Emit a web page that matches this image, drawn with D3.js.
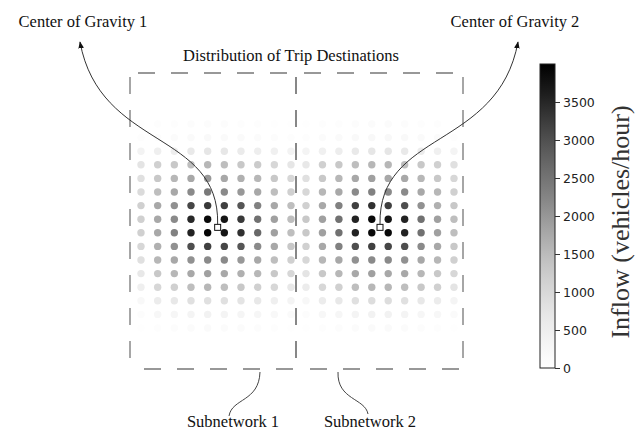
<!DOCTYPE html>
<html>
<head>
<meta charset="utf-8">
<script src="https://cdn.jsdelivr.net/npm/d3@7"></script>
<style>
body { margin: 0; background: #fff; }
svg { display: block; }
.serif { font-family: "Liberation Serif", "Times New Roman", serif; fill: #111; }
.tick text { font-family: "DejaVu Sans", sans-serif; font-size: 12.5px; fill: #222; }
</style>
</head>
<body>
<div id="chart"></div>
<script>
// inflow per zone (vehicles/hour), rows top -> bottom, 10 columns per subnetwork
var subnetwork1 = [
    [  40,   60,   80,  100,  100,  100,   80,   60,   40,   30],
    [  60,  100,  120,  160,  200,  180,  160,  120,  100,   60],
    [ 380,  480,  520,  650,  700,  680,  600,  520,  460,  380],
    [ 760, 1160, 1300, 1450, 1560, 1450, 1300, 1250, 1020,  700],
    [ 850, 1300, 1560, 1770, 1980, 1770, 1660, 1560, 1300, 1020],
    [ 950, 1450, 1770, 2180, 2420, 2180, 1980, 1770, 1450, 1160],
    [1160, 1770, 2080, 3120, 3280, 3200, 2920, 2300, 1770, 1450],
    [1160, 1770, 2180, 3480, 3880, 3720, 3280, 2540, 1870, 1450],
    [1160, 1770, 2300, 3550, 3950, 3720, 3380, 2660, 1870, 1450],
    [1020, 1660, 2080, 3020, 3200, 3120, 2920, 2180, 1770, 1300],
    [ 850, 1560, 1770, 2080, 2180, 2180, 1980, 1770, 1450, 1160],
    [ 670, 1300, 1560, 1770, 1870, 1770, 1660, 1560, 1300, 1020],
    [ 500, 1020, 1160, 1450, 1560, 1450, 1300, 1160, 1020,  670],
    [ 220,  580,  670,  850,  850,  850,  760,  670,  500,  360],
    [ 100,  250,  300,  360,  400,  360,  330,  300,  220,  150],
    [  40,   80,  100,  140,  160,  140,  120,  100,   80,   40]
];
var subnetwork2 = [
    [  40,   60,   80,  100,  120,  120,  100,   80,   60,   40],
    [  80,  120,  160,  200,  220,  220,  200,  160,  120,   80],
    [ 360,  460,  540,  640,  700,  700,  640,  560,  460,  360],
    [ 670, 1160, 1300, 1450, 1560, 1560, 1450, 1300, 1160,  850],
    [ 850, 1300, 1560, 1770, 1870, 1770, 1770, 1560, 1300, 1020],
    [1020, 1560, 1770, 2180, 2300, 2180, 2180, 1770, 1560, 1160],
    [1160, 1770, 2300, 3200, 3380, 3200, 3020, 2080, 1660, 1300],
    [1300, 1870, 2540, 3550, 3880, 3720, 3550, 2540, 1870, 1450],
    [1300, 1870, 2540, 3550, 3880, 3880, 3550, 2540, 1870, 1450],
    [1160, 1770, 2300, 3020, 3200, 3120, 3020, 2180, 1770, 1300],
    [1020, 1560, 1770, 2080, 2180, 2180, 2080, 1770, 1560, 1160],
    [ 760, 1300, 1560, 1770, 1870, 1770, 1770, 1560, 1300, 1020],
    [ 580, 1020, 1160, 1450, 1560, 1560, 1450, 1300, 1160,  760],
    [ 250,  580,  670,  850,  900,  900,  850,  670,  580,  360],
    [ 100,  250,  300,  360,  400,  400,  360,  300,  250,  150],
    [  40,   80,  100,  140,  160,  160,  140,  100,   80,   40]
];
var subnetworkNames = ["Subnetwork 1", "Subnetwork 2"];
var gravityNames = ["Center of Gravity 1", "Center of Gravity 2"];
// centre of gravity in grid units (column, row)
var gravityCol = [4.6, 4.5];
var gravityRow = [7.6, 7.6];
var colorTicks = [0, 500, 1000, 1500, 2000, 2500, 3000, 3500];
var colorMax = 4000;

var width = 636, height = 437;

var svg = d3.select("#chart").append("svg")
    .attr("width", width)
    .attr("height", height);

var color = d3.scaleSequential(d3.interpolateGreys).domain([0, colorMax]);

// one x scale per subnetwork, shared row scale
var panels = [
    {values: subnetwork1, x: d3.scaleLinear().domain([0, 9]).range([141, 291]), box: [130, 296]},
    {values: subnetwork2, x: d3.scaleLinear().domain([0, 9]).range([306, 454]), box: [296, 463]}
];
var y = d3.scaleLinear().domain([0, 15]).range([124, 328]);
var boxTop = 73, boxBottom = 369;

// dashed frames
panels.forEach(function(p) {
    var g = svg.append("g")
        .attr("fill", "none")
        .attr("stroke", "#777")
        .attr("stroke-width", 1.3)
        .attr("stroke-dasharray", "17,16");
    var segs = [
        [p.box[0] + 8, boxTop, p.box[1], boxTop],
        [p.box[0] + 14, boxBottom, p.box[1], boxBottom],
        [p.box[0], boxTop + 4, p.box[0], boxBottom],
        [p.box[1], boxTop + 4, p.box[1], boxBottom]
    ];
    g.selectAll("line").data(segs).enter().append("line")
        .attr("x1", function(d) { return d[0]; })
        .attr("y1", function(d) { return d[1]; })
        .attr("x2", function(d) { return d[2]; })
        .attr("y2", function(d) { return d[3]; });
});

// dots
panels.forEach(function(p) {
    var cells = [];
    p.values.forEach(function(row, r) {
        row.forEach(function(v, c) { cells.push({r: r, c: c, v: v}); });
    });
    svg.append("g").selectAll("circle")
        .data(cells)
        .enter().append("circle")
            .attr("cx", function(d) { return p.x(d.c); })
            .attr("cy", function(d) { return y(d.r); })
            .attr("r", 3.7)
            .attr("fill", function(d) { return color(d.v); });
});

// arrows
var defs = svg.append("defs");
defs.append("marker")
    .attr("id", "head")
    .attr("viewBox", "0 0 10 10")
    .attr("refX", 9).attr("refY", 5)
    .attr("markerWidth", 7).attr("markerHeight", 7)
    .attr("markerUnits", "userSpaceOnUse")
    .attr("orient", "auto")
    .append("path")
        .attr("d", "M0,1 L10,5 L0,9 Z")
        .attr("fill", "#111");

var tips = [[80, 42], [518, 42]];
panels.forEach(function(p, i) {
    var gx = p.x(gravityCol[i]), gy = y(gravityRow[i]);
    var s = i === 0 ? -1 : 1;
    var path = d3.path();
    path.moveTo(gx, gy - 3);
    path.bezierCurveTo(gx - s * 2, 130, tips[i][0] - s * 20, 150, tips[i][0], tips[i][1]);
    svg.append("path")
        .attr("d", path.toString())
        .attr("fill", "none")
        .attr("stroke", "#333")
        .attr("stroke-width", 1)
        .attr("marker-end", "url(#head)");
    svg.append("rect")
        .attr("x", gx - 3).attr("y", gy - 3)
        .attr("width", 6).attr("height", 6)
        .attr("fill", "#fff")
        .attr("stroke", "#111")
        .attr("stroke-width", 1);
    svg.append("text")
        .attr("class", "serif")
        .attr("x", tips[i][0] - 3 * s)
        .attr("y", 27)
        .attr("text-anchor", "middle")
        .style("font-size", "16.5px")
        .text(gravityNames[i]);
});

// subnetwork callouts
var callouts = [
    {from: [260, 372], c1: [259, 402], c2: [232, 398], to: [229, 416], label: [233, 427]},
    {from: [338, 372], c1: [337, 400], c2: [365, 398], to: [368, 414], label: [370, 427]}
];
callouts.forEach(function(d, i) {
    var path = d3.path();
    path.moveTo(d.from[0], d.from[1]);
    path.bezierCurveTo(d.c1[0], d.c1[1], d.c2[0], d.c2[1], d.to[0], d.to[1]);
    svg.append("path")
        .attr("d", path.toString())
        .attr("fill", "none")
        .attr("stroke", "#444")
        .attr("stroke-width", 1);
    svg.append("text")
        .attr("class", "serif")
        .attr("x", d.label[0]).attr("y", d.label[1])
        .attr("text-anchor", "middle")
        .style("font-size", "16.5px")
        .text(subnetworkNames[i]);
});

svg.append("text")
    .attr("class", "serif")
    .attr("x", 291).attr("y", 61)
    .attr("text-anchor", "middle")
    .style("font-size", "16.5px")
    .text("Distribution of Trip Destinations");

// colorbar
var cbX = 540, cbW = 15;
var cbY = d3.scaleLinear().domain([0, colorMax]).range([368, 64]);
var grad = defs.append("linearGradient")
    .attr("id", "greys")
    .attr("x1", 0).attr("y1", 1).attr("x2", 0).attr("y2", 0);
d3.range(0, 1.0001, 0.05).forEach(function(t) {
    grad.append("stop")
        .attr("offset", t)
        .attr("stop-color", d3.interpolateGreys(t));
});
svg.append("rect")
    .attr("x", cbX).attr("y", cbY(colorMax))
    .attr("width", cbW).attr("height", cbY(0) - cbY(colorMax))
    .attr("fill", "url(#greys)")
    .attr("stroke", "#222")
    .attr("stroke-width", 1);

var axis = d3.axisRight(cbY)
    .tickValues(colorTicks)
    .tickFormat(d3.format("d"))
    .tickSize(5)
    .tickPadding(3);
var ax = svg.append("g")
    .attr("transform", "translate(" + (cbX + cbW) + ",0)")
    .call(axis);
ax.select(".domain").remove();
ax.selectAll(".tick line").attr("stroke", "#333");

svg.append("text")
    .attr("class", "serif")
    .attr("transform", "translate(629,222)rotate(-90)")
    .attr("text-anchor", "middle")
    .style("font-size", "26px")
    .style("fill", "#333")
    .text("Inflow (vehicles/hour)");
</script>
</body>
</html>
